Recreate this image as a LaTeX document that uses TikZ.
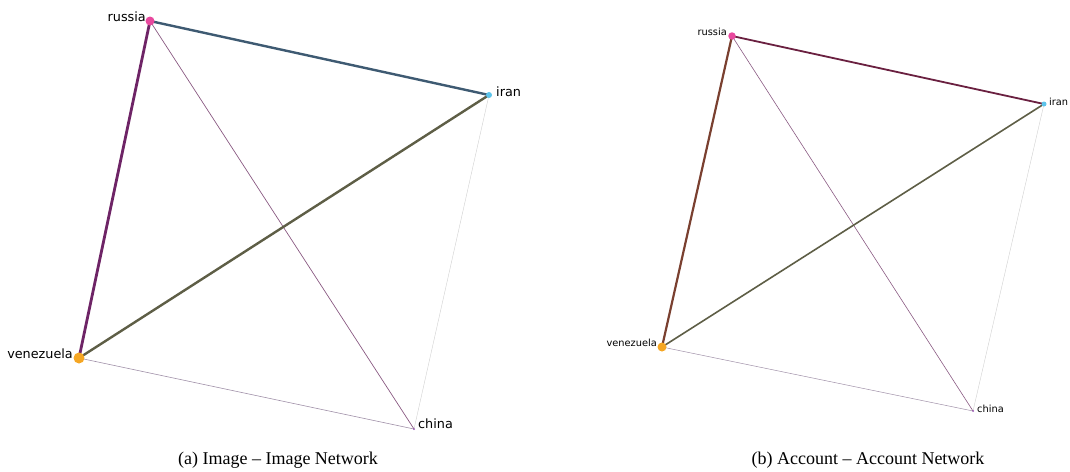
\documentclass[tikz,border=0pt]{standalone}
\usepackage{fontspec}
\setmainfont{Liberation Serif}
\newfontfamily\lblfont{DejaVu Sans}
\begin{document}
\begin{tikzpicture}[x=1pt,y=-1pt,
  vtx/.style={circle,inner sep=0pt,draw=none},
  lblA/.style={font=\lblfont\fontsize{12.8}{13}\selectfont,inner sep=0pt},
  lblB/.style={font=\lblfont\fontsize{9.8}{10}\selectfont,inner sep=0pt},
  captext/.style={font=\fontsize{18}{20}\selectfont,inner sep=0pt}]
\definecolor{cRus}{HTML}{E8489E}
\definecolor{cIran}{HTML}{5CC3EA}
\definecolor{cVen}{HTML}{F5A623}
\definecolor{cChina}{HTML}{9B59B6}
\definecolor{eRI}{HTML}{3E5A72}
\definecolor{eRV}{HTML}{6E2466}
\definecolor{eVI}{HTML}{5E5E46}
\definecolor{eRC}{HTML}{8A5A82}
\definecolor{eVC}{HTML}{A090A8}
\definecolor{eIC}{HTML}{D0D0D0}
\definecolor{fRI}{HTML}{6A2040}
\definecolor{fRV}{HTML}{7A4030}
\useasboundingbox (0,0) rectangle (1070,471);
% ---- panel a ----
\coordinate (ar) at (150,21);
\coordinate (ai) at (489,95);
\coordinate (av) at (79,358);
\coordinate (ac) at (414,429);
\draw[eIC,line width=0.4pt] (ai) -- (ac);
\draw[eVC,line width=0.6pt] (av) -- (ac);
\draw[eRC,line width=0.7pt] (ar) -- (ac);
\draw[eVI,line width=2.4pt] (av) -- (ai);
\draw[eRI,line width=2.4pt] (ar) -- (ai);
\draw[eRV,line width=2.8pt] (ar) -- (av);
\node[vtx,fill=cRus,minimum size=9pt] (arn) at (ar) {};
\node[vtx,fill=cIran,minimum size=6pt] (ain) at (ai) {};
\node[vtx,fill=cVen,minimum size=11pt] (avn) at (av) {};
\node[vtx,fill=cChina,minimum size=2pt] (acn) at (ac) {};
\node[lblA,anchor=east] (arl) at (146,17) {russia};
\node[lblA,anchor=west] (ail) at (496,92) {iran};
\node[lblA,anchor=east] (avl) at (73,354) {venezuela};
\node[lblA,anchor=west] (acl) at (418,424) {china};
\node[captext] (capa) at (278,460) {(a) Image -- Image Network};
% ---- panel b ----
\coordinate (br) at (732,36);
\coordinate (bi) at (1044,104);
\coordinate (bv) at (662,347);
\coordinate (bc) at (973,411);
\draw[eIC,line width=0.4pt] (bi) -- (bc);
\draw[eVC,line width=0.5pt] (bv) -- (bc);
\draw[eRC,line width=0.6pt] (br) -- (bc);
\draw[eVI,line width=1.6pt] (bv) -- (bi);
\draw[fRI,line width=1.8pt] (br) -- (bi);
\draw[fRV,line width=2.2pt] (br) -- (bv);
\node[vtx,fill=cRus,minimum size=7.5pt] (brn) at (br) {};
\node[vtx,fill=cIran,minimum size=5pt] (bin) at (bi) {};
\node[vtx,fill=cVen,minimum size=9pt] (bvn) at (bv) {};
\node[vtx,fill=cChina,minimum size=2pt] (bcn) at (bc) {};
\node[lblB,anchor=east] (brl) at (727,32) {russia};
\node[lblB,anchor=west] (bil) at (1049,102) {iran};
\node[lblB,anchor=east] (bvl) at (657,343) {venezuela};
\node[lblB,anchor=west] (bcl) at (977,409) {china};
\node[captext] (capb) at (868,460) {(b) Account -- Account Network};
\end{tikzpicture}
\end{document}
